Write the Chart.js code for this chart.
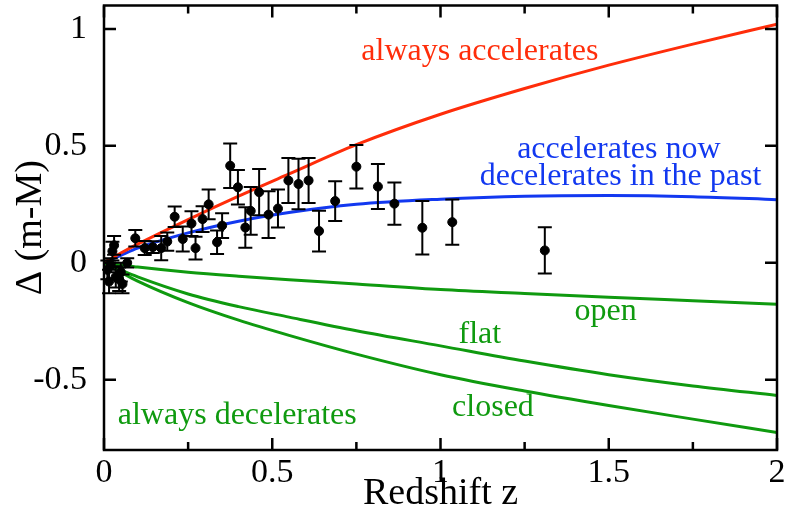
<!DOCTYPE html>
<html>
<head>
<meta charset="utf-8">
<script src="https://cdn.jsdelivr.net/npm/chart.js@4.4.0/dist/chart.umd.min.js"></script>
<style>
  html, body { margin: 0; padding: 0; background: #fff; }
</style>
</head>
<body>
<canvas id="hubble" width="785" height="523"></canvas>
<script>
// supernova points: redshift, delta(m-M), error
const snZ = [0.010, 0.015, 0.020, 0.025, 0.030, 0.035, 0.045, 0.050, 0.055, 0.069,
  0.093, 0.121, 0.145, 0.170, 0.188, 0.210, 0.234, 0.260, 0.272, 0.293,
  0.311, 0.336, 0.351, 0.375, 0.398, 0.420, 0.436, 0.461, 0.489, 0.517,
  0.548, 0.578, 0.608, 0.639, 0.687, 0.750, 0.814, 0.863, 0.946, 1.035, 1.310];
const snDm = [-0.03, -0.08, -0.01, 0.05, 0.075, -0.06, -0.07, -0.04, -0.09, 0.00,
  0.105, 0.063, 0.067, 0.063, 0.091, 0.197, 0.102, 0.168, 0.063, 0.187,
  0.250, 0.088, 0.159, 0.415, 0.323, 0.151, 0.222, 0.302, 0.206, 0.232,
  0.352, 0.337, 0.352, 0.136, 0.264, 0.411, 0.326, 0.253, 0.150, 0.174, 0.053];
const snErr = [0.04, 0.05, 0.03, 0.04, 0.04, 0.045, 0.05, 0.04, 0.04, 0.02,
  0.035, 0.03, 0.025, 0.052, 0.039, 0.044, 0.053, 0.053, 0.049, 0.055,
  0.064, 0.05, 0.053, 0.095, 0.074, 0.087, 0.102, 0.099, 0.10, 0.081,
  0.096, 0.108, 0.096, 0.087, 0.085, 0.093, 0.096, 0.09, 0.114, 0.097, 0.099];

// model curves
const curveZ = [0, 0.05, 0.1, 0.25, 0.4, 0.55, 0.75, 1, 1.25, 1.5, 1.75, 2];
const alwaysAcc = [0, 0.042, 0.08, 0.185, 0.285, 0.38, 0.505, 0.635, 0.745, 0.845, 0.935, 1.02];
const accNow = [0, 0.032, 0.063, 0.128, 0.178, 0.215, 0.25, 0.272, 0.285, 0.288, 0.283, 0.27];
const openU = [0, -0.009, -0.018, -0.04, -0.057, -0.072, -0.09, -0.114, -0.131, -0.147, -0.162, -0.177];
const flatU = [0, -0.031, -0.06, -0.133, -0.187, -0.232, -0.29, -0.355, -0.42, -0.478, -0.526, -0.567];
const closedU = [0, -0.04, -0.078, -0.17, -0.245, -0.31, -0.39, -0.478, -0.548, -0.61, -0.668, -0.725];

const xTicks = [0, 0.5, 1, 1.5, 2];
const xMinor = [0.25, 0.75, 1.25, 1.75];
const yTicks = [-0.5, 0, 0.5, 1];

const RED = '#ff2d0a', BLUE = '#1238f0', GREEN = '#0f9a0f';
const serif = '"Liberation Serif", "Times New Roman", serif';

// text labels: text, z, delta, colour
const notes = [
  ['always accelerates', 1.117, 0.869, RED],
  ['accelerates now', 1.53, 0.45, BLUE],
  ['decelerates in the past', 1.535, 0.331, BLUE],
  ['open', 1.491, -0.244, GREEN],
  ['flat', 1.117, -0.343, GREEN],
  ['closed', 1.156, -0.656, GREEN],
  ['always decelerates', 0.396, -0.69, GREEN]
];

function curve(ys) {
  return curveZ.map((z, i) => ({ x: z, y: ys[i] }));
}

function lineSet(ys, color) {
  return {
    type: 'line', data: curve(ys), borderColor: color, borderWidth: 3,
    pointRadius: 0, cubicInterpolationMode: 'monotone', fill: false, order: 2
  };
}

const errorBars = {
  id: 'errorBars',
  afterDatasetsDraw(chart) {
    const { ctx, scales: { x, y } } = chart;
    ctx.save();
    ctx.strokeStyle = '#000';
    ctx.lineWidth = 2;
    snZ.forEach((z, i) => {
      const px = x.getPixelForValue(z);
      const top = y.getPixelForValue(snDm[i] + snErr[i]);
      const bot = y.getPixelForValue(snDm[i] - snErr[i]);
      ctx.beginPath();
      ctx.moveTo(px, top); ctx.lineTo(px, bot);
      ctx.moveTo(px - 7, top); ctx.lineTo(px + 7, top);
      ctx.moveTo(px - 7, bot); ctx.lineTo(px + 7, bot);
      ctx.stroke();
    });
    ctx.font = '32px ' + serif;
    ctx.textAlign = 'center';
    ctx.textBaseline = 'alphabetic';
    notes.forEach(n => {
      ctx.fillStyle = n[3];
      ctx.fillText(n[0], x.getPixelForValue(n[1]), y.getPixelForValue(n[2]));
    });
    ctx.restore();
  }
};

const frame = {
  id: 'frame',
  afterDraw(chart) {
    const { ctx, chartArea: a, scales: { x, y } } = chart;
    ctx.save();
    ctx.strokeStyle = '#000';
    ctx.lineWidth = 2.5;
    ctx.strokeRect(a.left, a.top, a.right - a.left, a.bottom - a.top);
    ctx.beginPath();
    const xt = (v, len) => {
      const p = x.getPixelForValue(v);
      ctx.moveTo(p, a.bottom); ctx.lineTo(p, a.bottom - len);
      ctx.moveTo(p, a.top); ctx.lineTo(p, a.top + len);
    };
    xTicks.forEach(v => xt(v, 12));
    xMinor.forEach(v => xt(v, 8));
    yTicks.forEach(v => {
      const p = y.getPixelForValue(v);
      ctx.moveTo(a.left, p); ctx.lineTo(a.left + 12, p);
      ctx.moveTo(a.right, p); ctx.lineTo(a.right - 12, p);
    });
    ctx.stroke();
    ctx.restore();
  }
};

function draw() {
  new Chart(document.getElementById('hubble'), {
    data: {
      datasets: [
        {
          type: 'scatter',
          data: snZ.map((z, i) => ({ x: z, y: snDm[i] })),
          backgroundColor: '#000', borderColor: '#000',
          pointRadius: 4.5, order: 1
        },
        lineSet(alwaysAcc, RED),
        lineSet(accNow, BLUE),
        lineSet(openU, GREEN),
        lineSet(flatU, GREEN),
        lineSet(closedU, GREEN)
      ]
    },
    options: {
      responsive: false,
      animation: false,
      devicePixelRatio: 1,
      layout: { padding: { top: 1, right: 8, left: 0, bottom: 0 } },
      plugins: { legend: { display: false }, tooltip: { enabled: false } },
      scales: {
        x: {
          type: 'linear', min: 0, max: 2,
          afterBuildTicks: s => { s.ticks = xTicks.map(v => ({ value: v })); },
          afterFit: s => { s.height = 73; s.paddingLeft = 0; s.paddingRight = 0; },
          grid: { display: false },
          border: { display: false },
          ticks: {
            color: '#000', padding: -5, maxRotation: 0, autoSkip: false,
            font: { family: serif, size: 34 },
            callback: v => String(v)
          },
          title: {
            display: true, text: 'Redshift z', color: '#000',
            font: { family: serif, size: 38 }, padding: { top: 0, bottom: 6 }
          }
        },
        y: {
          type: 'linear', min: -0.8, max: 1.1,
          afterBuildTicks: s => { s.ticks = yTicks.map(v => ({ value: v })); },
          afterFit: s => { s.width = 104; s.paddingTop = 0; s.paddingBottom = 0; },
          grid: { display: false },
          border: { display: false },
          ticks: {
            color: '#000', padding: 9,
            font: { family: serif, size: 34 },
            callback: v => String(v)
          },
          title: {
            display: true, text: 'Δ (m-M)', color: '#000',
            font: { family: serif, size: 38 }, padding: { top: 8, bottom: 0 }
          }
        }
      }
    },
    plugins: [errorBars, frame]
  });
}

Promise.all([
  document.fonts.load('34px "Liberation Serif"'),
  document.fonts.load('32px "Liberation Serif"')
]).then(draw, draw);
</script>
</body>
</html>
